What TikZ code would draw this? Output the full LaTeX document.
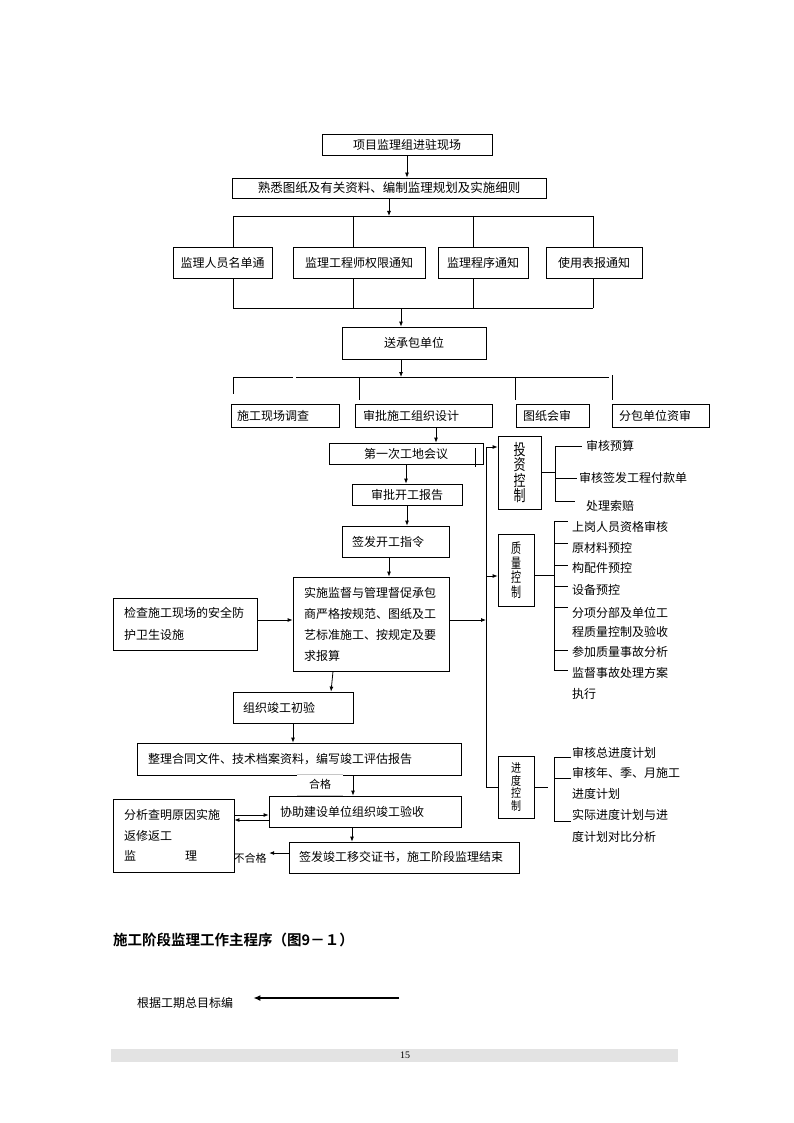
\documentclass[tikz,border=0pt]{standalone}
\usepackage{fontspec}
\usepackage{graphicx}
\setmainfont{Noto Sans CJK SC}[BoldFont={Noto Sans CJK SC Bold}]
\newfontfamily\numfont{Liberation Serif}
\newcommand\vstk[2]{\scalebox{1}[#1]{#2}}
\usetikzlibrary{arrows.meta}
\begin{document}
\begin{tikzpicture}[x=1pt,y=-1pt,
  box/.style={draw, line width=0.8pt, inner sep=0pt, align=center, font=\fontsize{12}{15}\selectfont},
  lbox/.style={box, align=left},
  arr/.style={-{Latex[length=5pt,width=4pt]}, line width=0.8pt},
  ln/.style={line width=0.8pt},
  txt/.style={anchor=west, inner sep=0pt, font=\fontsize{12}{15}\selectfont}]
\useasboundingbox (0,0) rectangle (794,1123);
\fill[white] (0,0) rectangle (794,1123);

% ---------- helper coordinates ----------
\coordinate (ya) at (0,216);
\coordinate (yb) at (0,308);
\coordinate (yc) at (0,377);
\coordinate (xa) at (233,0);
\coordinate (xb) at (353,0);
\coordinate (xc) at (473,0);
\coordinate (xd) at (593,0);
\coordinate (xm) at (401,0);
\coordinate (x436) at (436,0);
\coordinate (x389) at (389,0);
\coordinate (x333) at (333,0);
\coordinate (x331) at (331,0);
\coordinate (x353) at (353,0);
\coordinate (x352) at (352,0);
\coordinate (bx) at (486,0);
\coordinate (y447) at (0,447);
\coordinate (y576) at (0,576);
\coordinate (y620) at (0,620);
\coordinate (yu) at (0,815);
\coordinate (yl) at (0,820);
\coordinate (ibx) at (555,0);
\coordinate (qbx) at (554,0);
\coordinate (sbx) at (554,0);
\coordinate (sgap) at (548,0);

% ---------- main column ----------
\node[box, minimum width=170pt, minimum height=21pt] (b1) at (407,144.5) {项目监理组进驻现场};
\node[box, minimum width=314pt, minimum height=20pt, font=\fontsize{12.5}{15}\selectfont] (b2) at (389,188) {熟悉图纸及有关资料、编制监理规划及实施细则};

\node[box, minimum width=99pt, minimum height=31pt] (r1) at (222.5,262.5) {监理人员名单通};
\node[box, minimum width=132pt, minimum height=31pt] (r2) at (359,262.5) {监理工程师权限通知};
\node[box, minimum width=90pt, minimum height=31pt] (r3) at (483,262.5) {监理程序通知};
\node[box, minimum width=96pt, minimum height=31pt] (r4) at (594,262.5) {使用表报通知};

\node[box, minimum width=144pt, minimum height=32pt] (b3) at (414,343) {送承包单位};

\node[lbox, text width=96pt, inner xsep=6pt, minimum height=23pt] (s1) at (285,415.5) {施工现场调查};
\node[lbox, text width=121pt, inner xsep=8pt, minimum height=23pt] (s2) at (423.5,415.5) {审批施工组织设计};
\node[lbox, text width=59pt, inner xsep=7pt, minimum height=23pt] (s3) at (552.5,415.5) {图纸会审};
\node[lbox, text width=83pt, inner xsep=7pt, minimum height=23pt] (s4) at (660.5,415.5) {分包单位资审};

\node[box, minimum width=154pt, minimum height=21pt] (m1) at (406,453.5) {第一次工地会议};
\node[box, minimum width=110pt, minimum height=21pt] (m2) at (407,494.5) {审批开工报告};
\node[lbox, text width=87pt, inner xsep=10pt, minimum height=31pt] (m3) at (395.5,541.5) {签发开工指令};
\node[lbox, text width=134pt, inner xsep=11pt, minimum height=94pt, font=\fontsize{12}{21}\selectfont] (m4) at (371,624)
  {实施监督与管理督促承包\\商严格按规范、图纸及工\\艺标准施工、按规定及要\\求报算};
\node[lbox, text width=122pt, inner xsep=11pt, minimum height=52pt, font=\fontsize{12}{22}\selectfont] (L) at (185,624)
  {检查施工现场的安全防\\护卫生设施};

\node[lbox, text width=100pt, inner xsep=10pt, minimum height=31pt] (c1) at (293,707.5) {组织竣工初验};
\node[lbox, text width=302pt, inner xsep=11pt, minimum height=32pt] (c2) at (299,759) {整理合同文件、技术档案资料，编写竣工评估报告};
\node[lbox, text width=170pt, inner xsep=11pt, minimum height=31pt] (c3) at (365,811.5) {协助建设单位组织竣工验收};
\node[lbox, text width=210pt, inner xsep=10pt, minimum height=31pt] (c4) at (404,857.5) {签发竣工移交证书，施工阶段监理结束};
\node[lbox, text width=99pt, inner xsep=11pt, minimum height=73pt, font=\fontsize{12}{20.5}\selectfont] (c5) at (173.5,835.5)
  {分析查明原因实施\\返修返工\\监\hspace{49pt}理};

% ---------- right control boxes ----------
\node[box, minimum width=43pt, minimum height=73pt, font=\fontsize{12}{14}\selectfont] (t1) at (519.5,472.5)
  {\vstk{1.3}{投}\\\vstk{1.3}{资}\\\vstk{1.3}{控}\\\vstk{1.3}{制}};
\node[box, minimum width=36pt, minimum height=72pt, font=\fontsize{10}{14.5}\selectfont] (t2) at (516,570)
  {\vstk{1.4}{质}\\\vstk{1.4}{量}\\\vstk{1.4}{控}\\\vstk{1.4}{制}};
\node[box, minimum width=36pt, minimum height=62pt, font=\fontsize{10}{12.5}\selectfont] (t3) at (516,787)
  {\vstk{1.2}{进}\\\vstk{1.2}{度}\\\vstk{1.2}{控}\\\vstk{1.2}{制}};

% right texts
\node[txt] (i1) at (586,446) {审核预算};
\node[txt] (i2) at (579,478) {审核签发工程付款单};
\node[txt] (i3) at (586,506) {处理索赔};

\node[txt] (q1) at (572,527) {上岗人员资格审核};
\node[txt] (q2) at (572,548) {原材料预控};
\node[txt] (q3) at (572,568) {构配件预控};
\node[txt] (q4) at (572,590) {设备预控};
\node[txt] (q5) at (572,613) {分项分部及单位工};
\node[txt] (q6) at (572,632) {程质量控制及验收};
\node[txt] (q7) at (572,652) {参加质量事故分析};
\node[txt] (q8) at (572,673) {监督事故处理方案};
\node[txt] (q9) at (572,694) {执行};

\node[txt] (p1) at (572,753) {审核总进度计划};
\node[txt] (p2) at (572,773) {审核年、季、月施工};
\node[txt] (p3) at (572,794) {进度计划};
\node[txt] (p4) at (572,815) {实际进度计划与进};
\node[txt] (p5) at (572,837) {度计划对比分析};

% ---------- connectors: top ----------
\draw[arr] (b1.south) -- (b1.south |- b2.north);
\draw[arr] (b2.south) -- (b2.south |- ya);
\draw[ln] (xa|-ya) -- (xd|-ya);
\foreach \c/\r in {xa/r1,xb/r2,xc/r3,xd/r4}{
  \draw[ln] (\c|-ya) -- (\c|-\r.north);
  \draw[ln] (\c|-\r.south) -- (\c|-yb);
}
\draw[ln] (xa|-yb) -- (xd|-yb);
\draw[arr] (xm|-yb) -- (xm|-b3.north);
\draw[arr] (xm|-b3.south) -- (xm|-yc);

\coordinate (bus3a) at (233,377);
\coordinate (bus3b) at (293,377);
\coordinate (bus3c) at (296,377);
\coordinate (bus3d) at (609,377);
\coordinate (st1a) at (233,377); \coordinate (st1b) at (233,394);
\coordinate (st2a) at (359,377); \coordinate (st2b) at (359,400);
\coordinate (st3a) at (515,377); \coordinate (st3b) at (515,400);
\coordinate (st4a) at (612,375); \coordinate (st4b) at (612,400);
\draw[ln] (bus3a) -- (bus3b);
\draw[ln] (bus3c) -- (bus3d);
\draw[ln] (st1a) -- (st1b);
\draw[ln] (st2a) -- (st2b);
\draw[ln] (st3a) -- (st3b);
\draw[ln] (st4a) -- (st4b);

% ---------- connectors: main column ----------
\draw[arr] (x436|-s2.south) -- (x436|-m1.north);
\coordinate (mk1) at (475,448); \coordinate (mk2) at (475,467);
\draw[ln] (mk1) -- (mk2);
\draw[arr] (m1.south) -- (m1.south|-m2.north);
\draw[arr] (m2.south) -- (m2.south|-m3.north);
\draw[arr] (x389|-m3.south) -- (x389|-m4.north);
\draw[arr] (L.east|-y620) -- (m4.west|-y620);
\draw[arr] (m4.east|-y620) -- (bx|-y620);
\draw[arr] (x333|-m4.south) -- (x331|-c1.north);
\draw[arr] (c1.south) -- (c1.south|-c2.north);
\draw[arr] (x353|-c2.south) -- (x353|-c3.north);
\draw[arr] (x352|-c3.south) -- (x352|-c4.north);
\draw[arr] (c5.east|-yu) -- (c3.west|-yu);
\draw[arr] (c3.west|-yl) -- (c5.east|-yl);

% 合格 label
\node[fill=white, inner sep=0pt, minimum width=46pt, minimum height=20.5pt, font=\fontsize{11}{13}\selectfont] (hg) at (320,784.75) {合格};
\draw[gray!45, line width=0.8pt] (hg.north west) -- (hg.north east);
\draw[gray!45, line width=0.8pt] (hg.south west) -- (hg.south east);

% 不合格
\node[inner sep=0pt, font=\fontsize{11}{13}\selectfont] (bhg) at (250,858) {不合格};
\draw[arr] ([yshift=4.5pt]c4.west) -- ([yshift=5pt,xshift=2.5pt]bhg.east);

% ---------- right bus ----------
\draw[arr] (bx|-t3.west) -- (bx|-y447) -- (t1.west|-y447);
\draw[ln] (bx|-t3.west) -- (t3.west);
\draw[arr] (bx|-y576) -- (t2.west|-y576);

% investment bracket
\draw[ln] (t1.east) -- (t1.east -| ibx);
\draw[ln] (i1.west -| ibx) -- ([yshift=5pt]i3.west -| ibx);
\draw[ln] (i1.west -| ibx) -- ([xshift=-4pt]i1.west);
\draw[ln] (i2.west -| ibx) -- ([xshift=-2pt]i2.west);
\draw[ln] ([yshift=5pt]i3.west -| ibx) -- ([yshift=5pt,xshift=-11pt]i3.west);

% quality bracket
\draw[ln] ([yshift=-5pt]t2.east) -- ([yshift=-5pt]t2.east -| qbx);
\draw[ln] ([yshift=6pt]q1.west -| qbx) -- ([yshift=3pt]q8.west -| qbx);
\foreach \n/\dy in {q1/6,q2/5,q3/3,q4/4,q5/6,q7/2,q8/3}{
  \draw[ln] ([yshift=\dy pt]\n.west -| qbx) -- ([yshift=\dy pt,xshift=-4pt]\n.west);
}

% schedule bracket
\draw[ln] (t3.east) -- (t3.east -| sgap);
\draw[ln] ([yshift=-4pt]p1.west -| sbx) -- ([yshift=-6pt]p4.west -| sbx);
\foreach \n/\dy in {p1/-4,p2/-5,p4/-6}{
  \draw[ln] ([yshift=\dy pt]\n.west -| sbx) -- ([yshift=\dy pt,xshift=-1pt]\n.west);
}

% ---------- bottom ----------
\node[anchor=west, inner sep=0pt, font=\bfseries\fontsize{14.5}{16}\selectfont] (title) at (113,940) {施工阶段监理工作主程序（图9－１）};
\node[txt] (gj) at (137,1003) {根据工期总目标编};
\coordinate (ga) at (399,998);
\draw[-{Latex[length=7pt,width=6pt]}, line width=2.2pt] (ga) -- ([xshift=20pt,yshift=5pt]gj.east);

\fill[black!11] (111,1049) rectangle (678,1062);
\node[inner sep=0pt, font=\numfont\fontsize{10}{12}\selectfont] (pg) at (405,1055.5) {15};
\end{tikzpicture}
\end{document}
